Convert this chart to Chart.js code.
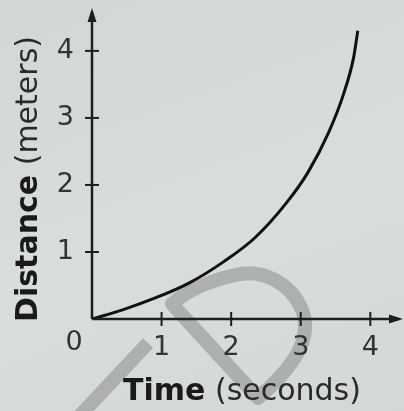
<!DOCTYPE html>
<html><head><meta charset="utf-8">
<script src="https://cdn.jsdelivr.net/npm/chart.js@4"></script>
<style>
html,body{margin:0;padding:0;background:#d6dad7;}
#wrap{position:relative;width:404px;height:411px;overflow:hidden;background:linear-gradient(160deg,#d3d7d4 0%,#dadedb 55%,#d4d8d5 100%);}
canvas{position:absolute;left:0;top:0;}
svg{position:absolute;left:0;top:0;}
.ttl{position:absolute;font-family:"DejaVu Sans",Verdana,sans-serif;font-size:30px;line-height:34px;color:#2a2a2a;white-space:nowrap;}
.ttl b{color:#1a1a1a;}
#ytitle{left:-123px;top:162px;width:300px;text-align:center;transform:rotate(-90deg);}
#xtitle{left:92px;top:373px;width:300px;text-align:center;}
</style></head>
<body>
<div id="wrap">
<svg width="404" height="411" aria-hidden="true">
  <g fill="none" stroke="rgba(110,112,110,0.40)" stroke-width="14">
    <path d="M 172 304 L 258 398 C 290 370, 314 340, 302 310 C 291 283, 262 268, 235 275 C 205 282, 185 292, 172 304 Z" stroke-linejoin="round"/>
    <path d="M 148 343 L 72 424"/>
  </g>
</svg>
<canvas id="c" width="404" height="411"></canvas>
<div class="ttl" id="ytitle"><b>Distance</b> (meters)</div>
<div class="ttl" id="xtitle"><b>Time</b> (seconds)</div>
</div>
<script>
const timeValues = [0, 0.45, 0.9, 1.4, 1.9, 2.35, 2.8, 3.1, 3.4, 3.62, 3.76, 3.82];
const distanceValues = [0, 0.14, 0.31, 0.54, 0.86, 1.22, 1.74, 2.18, 2.78, 3.37, 3.9, 4.3];
const xTickLabels = [1, 2, 3, 4];
const yTickLabels = [1, 2, 3, 4];
const originLabel = "0";

const points = timeValues.map((t, i) => ({x: t, y: distanceValues[i]}));

const axesPlugin = {
  id: 'axesPlugin',
  afterDraw(chart) {
    const ctx = chart.ctx;
    const xs = chart.scales.x, ys = chart.scales.y;
    const x0 = xs.getPixelForValue(0), y0 = ys.getPixelForValue(0);
    const ca = chart.chartArea;
    ctx.save();
    ctx.strokeStyle = '#1e1e1e';
    ctx.fillStyle = '#1e1e1e';
    ctx.lineWidth = 2.5;
    ctx.beginPath(); ctx.moveTo(x0, y0); ctx.lineTo(x0, ca.top + 4); ctx.stroke();
    ctx.beginPath(); ctx.moveTo(x0, y0); ctx.lineTo(ca.right - 4, y0); ctx.stroke();
    ctx.beginPath(); ctx.moveTo(x0, ca.top); ctx.lineTo(x0 - 4.5, ca.top + 14); ctx.lineTo(x0 + 4.5, ca.top + 14); ctx.closePath(); ctx.fill();
    ctx.beginPath(); ctx.moveTo(ca.right, y0); ctx.lineTo(ca.right - 14, y0 - 4.5); ctx.lineTo(ca.right - 14, y0 + 4.5); ctx.closePath(); ctx.fill();
    ctx.lineWidth = 2;
    yTickLabels.forEach(v => { const p = ys.getPixelForValue(v); ctx.beginPath(); ctx.moveTo(x0 - 7, p); ctx.lineTo(x0 + 7, p); ctx.stroke(); });
    xTickLabels.forEach(v => { const p = xs.getPixelForValue(v); ctx.beginPath(); ctx.moveTo(p, y0 - 7); ctx.lineTo(p, y0 + 7); ctx.stroke(); });
    ctx.fillStyle = '#333';
    ctx.font = '27px "DejaVu Sans", sans-serif';
    ctx.textAlign = 'center'; ctx.textBaseline = 'middle';
    ctx.fillText(originLabel, x0 - 18, y0 + 24);
    ctx.restore();
  }
};

new Chart(document.getElementById('c'), {
  type: 'scatter',
  data: { datasets: [{
    data: points, showLine: true, borderColor: '#111', borderWidth: 3,
    pointRadius: 0, cubicInterpolationMode: 'monotone', fill: false
  }]},
  options: {
    responsive: false, animation: false, devicePixelRatio: 1,
    layout: { padding: { top: 8, right: 1, left: 0, bottom: 0 } },
    plugins: { legend: { display: false }, tooltip: { enabled: false } },
    scales: {
      x: {
        type: 'linear', min: 0, max: 4.47,
        grid: { display: false, drawTicks: false }, border: { display: false },
        afterFit(s) { s.height = 92; s.paddingLeft = 0; s.paddingRight = 0; },
        afterBuildTicks(s) { s.ticks = xTickLabels.map(v => ({value: v})); },
        ticks: { padding: 13, color: '#333', font: { family: 'DejaVu Sans', size: 27 }, maxRotation: 0, autoSkip: false }
      },
      y: {
        type: 'linear', min: 0, max: 4.64,
        grid: { display: false, drawTicks: false }, border: { display: false },
        afterFit(s) { s.width = 92; s.paddingTop = 0; s.paddingBottom = 0; },
        afterBuildTicks(s) { s.ticks = yTickLabels.map(v => ({value: v})); },
        ticks: { padding: 18, color: '#333', font: { family: 'DejaVu Sans', size: 27 }, autoSkip: false }
      }
    }
  },
  plugins: [axesPlugin]
});
</script>
</body></html>
